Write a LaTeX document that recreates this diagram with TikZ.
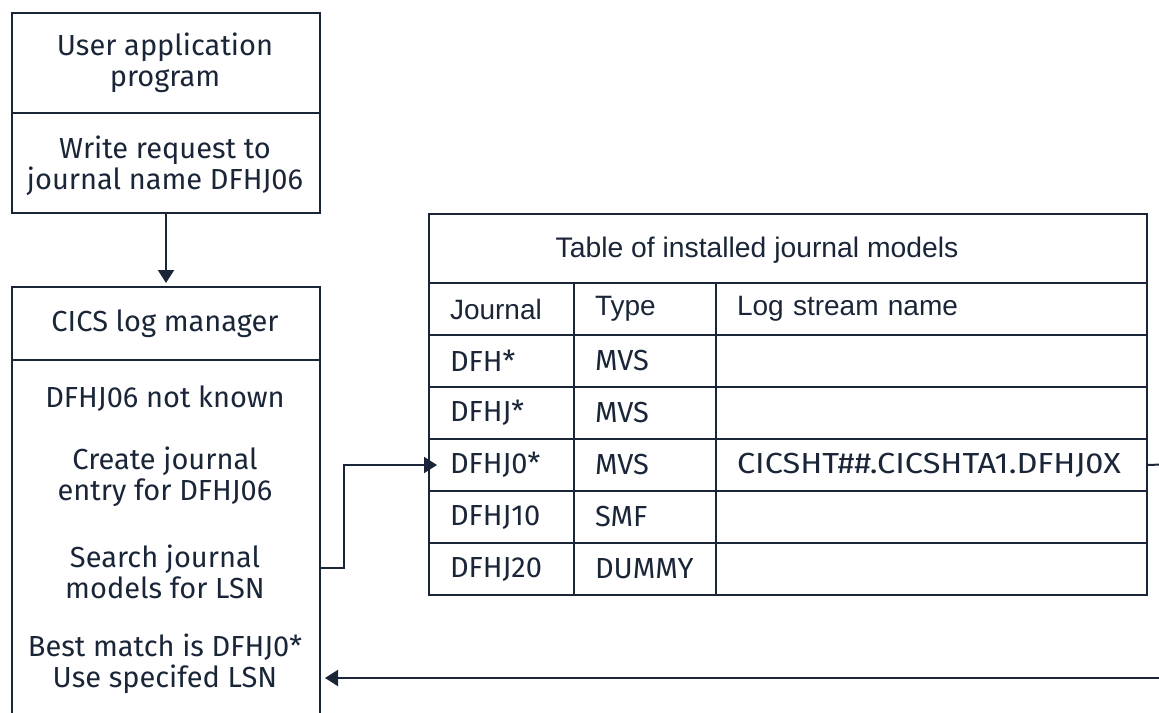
\documentclass[tikz,border=0pt]{standalone}
\usepackage{fontspec}
\usepackage{graphicx}
\setmainfont{Fira Sans}
\newfontfamily\arialf{Liberation Sans}
\usetikzlibrary{arrows.meta}
\definecolor{ink}{HTML}{1A2638}
\begin{document}
\begin{tikzpicture}[x=1pt,y=-1pt,
  font=\fontsize{29}{31}\selectfont,
  every node/.style={text=ink},
  box/.style={draw=ink, line width=2pt, minimum width=308pt, inner sep=0pt, anchor=north west, align=center},
  txt/.style={align=center, inner sep=0pt},
  cell/.style={draw=ink, line width=2pt, anchor=north west, inner ysep=0pt, inner xsep=21pt, minimum height=52pt, align=left},
  hcell/.style={cell, font=\arialf\fontsize{28}{31}\selectfont},
  ln/.style={draw=ink, line width=2pt},
  arr/.style={ln, -{Triangle[length=13pt,width=16pt]}}
]
\useasboundingbox (0,0) rectangle (1159,712);
\clip (0,0) rectangle (1159,712);
% left column
\node[box, minimum height=100pt] (user) at (11,12) {};
\node[txt] (usertext) at (165,63) {User application\\program};
\node[box, minimum height=100pt] (write) at (11,112) {};
\node[txt] (writetext) at (165,166) {Write request to\\journal name DFHJ06};
\node[box, minimum height=73pt] (chead) at (11,286) {};
\node[txt] (cheadtext) at (165,324) {CICS log manager};
\node[box, minimum height=420pt] (cbody) at (11,359) {};
\node[txt] (t1) at (165,399) {DFHJ06 not known};
\node[txt] (t2) at (165,477) {Create journal\\entry for DFHJ06};
\node[txt] (t3) at (165,572) {Search journal\\models for LSN};
\node[txt] (t4) at (165,664) {Best match is DFHJ0*\\Use specifed LSN};
% table
\node[draw=ink, line width=2pt, anchor=north west, minimum width=718pt, minimum height=69pt, inner sep=0pt] (ttl) at (428,213) {};
\node[inner sep=0pt, font=\arialf\fontsize{28.3}{31}\selectfont] (ttltext) at (757,250) {Table of installed journal models};
\node[hcell, text width=103pt] (h1) at (428,282) {Journal};
\node[hcell, text width=100pt] (h2) at (573,282) {Type};
\node[hcell, text width=389pt] (h3) at (715,282) {Log stream name};
\foreach \r/\a/\b/\c [count=\i] in {1/DFH*/MVS/{},2/DFHJ*/MVS/{},3/DFHJ0*/MVS/{\scalebox{1.12}[1]{CICSHT\#\#.CICSHTA1.DFHJ0X}},4/DFHJ10/SMF/{},5/DFHJ20/DUMMY/{}}{
  \node[cell, text width=103pt] (r\r a) at (428,282+52*\i) {\a};
  \node[cell, text width=100pt] (r\r b) at (573,282+52*\i) {\b};
  \node[cell, text width=389pt] (r\r c) at (715,282+52*\i) {\c};
}
% connectors
\draw[arr, shorten >=3pt] (write.south) -- (chead.north);
\coordinate (c1) at (344,568);
\draw[arr, shorten >=-9pt] (cbody.east |- c1) -- (c1) |- (r3a.west);
\coordinate (offR) at (1175,464);
\draw[ln] (r3c.east) -- (offR);
\coordinate (offB) at (1175,678);
\draw[arr, shorten >=4pt] (offB) -- (cbody.east |- offB);
\end{tikzpicture}
\end{document}
